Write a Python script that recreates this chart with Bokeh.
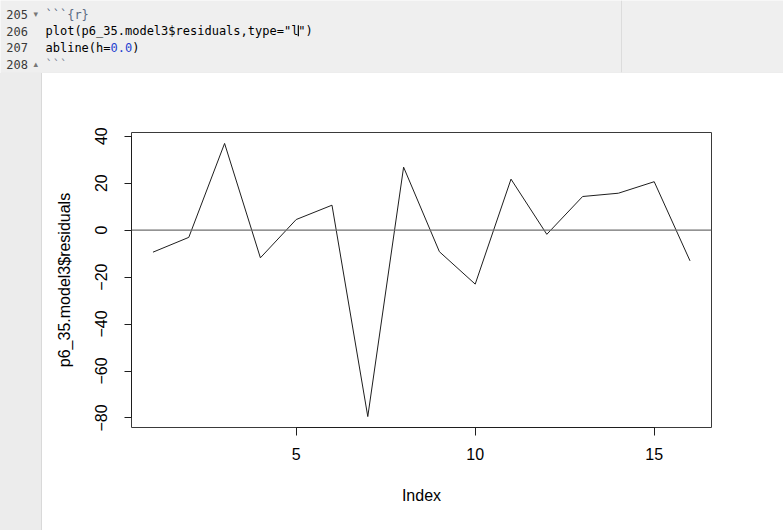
from bokeh.plotting import figure
from bokeh.models import Range1d, FixedTicker, Span, ColumnDataSource, Div
from bokeh.layouts import column, row
from bokeh.embed import file_html
from bokeh.resources import INLINE
from bokeh.core.properties import value

# ---- data ----
index = list(range(1, 17))
residuals = [-9.4, -3.1, 36.9, -11.8, 4.5, 10.6, -79.4, 26.8,
             -9.2, -23.0, 21.7, -1.8, 14.3, 15.7, 20.6, -13.1]
y_ticks = [-80, -60, -40, -20, 0, 20, 40]
x_ticks = [5, 10, 15]
x_label = "Index"
y_label = "p6_35.model3$residuals"

line_numbers = ["205", "206", "207", "208"]
fold_marks = ["\u25be", "", "", "\u25b4"]
# (line, column, text, colour)
code_segments = [
    (0, 0, "```{r}", "#5a6a84"),
    (1, 0, 'plot(p6_35.model3$residuals,type="l")', "#000000"),
    (2, 0, "abline(h=", "#000000"),
    (2, 9, "0.0", "#1f3fd0"),
    (2, 12, ")", "#000000"),
    (3, 0, "```", "#7d8797"),
]
cursor_line, cursor_col = 1, 35

FONT = "Liberation Sans"
MONO = "DejaVu Sans Mono"
W, H = 783, 530

# ---- editor band (top) ----
band_h = 73
top = figure(width=W, height=band_h, x_range=Range1d(0, W), y_range=Range1d(band_h - 1, 0),
             x_axis_location=None, y_axis_location=None, tools="",
             toolbar_location=None, output_backend="svg",
             min_border_left=0, min_border_right=0, min_border_top=0, min_border_bottom=1)
top.grid.visible = False
top.outline_line_color = None
top.background_fill_color = "#efefef"
top.border_fill_color = "#d6d6d6"

char_w = 0.602 * 12
code_x0 = 45
line_h = 16.67
base0 = 14.0

top.add_layout(Span(location=621, dimension="height", line_color="#dcdcdc", line_width=1))

top.text(x=[27.5] * len(line_numbers), y=[base0 + i * line_h for i in range(len(line_numbers))],
         text=line_numbers, text_font=value(MONO), text_font_size="12px",
         text_color="#3a3a3a", text_align="right", text_baseline="alphabetic")
top.text(x=[33] * len(fold_marks), y=[base0 - 1 + i * line_h for i in range(len(fold_marks))],
         text=fold_marks, text_font=value("DejaVu Sans"), text_font_size="9px",
         text_color="#777777", text_align="left", text_baseline="alphabetic")
seg_src = ColumnDataSource(dict(
    x=[code_x0 + c * char_w for (_, c, _, _) in code_segments],
    y=[base0 + l * line_h for (l, _, _, _) in code_segments],
    t=[s for (_, _, s, _) in code_segments],
    col=[k for (_, _, _, k) in code_segments],
))
top.text(x="x", y="y", text="t", text_color="col", source=seg_src,
         text_font=value(MONO), text_font_size="12px",
         text_align="left", text_baseline="alphabetic")
cx = code_x0 + cursor_col * char_w
cy = base0 + cursor_line * line_h
top.segment(x0=[cx], y0=[cy - 6], x1=[cx], y1=[cy + 5], line_color="#000000", line_width=1.2)

# ---- gutter (left) ----
gutter_w = 42
gut = Div(text="", width=gutter_w, height=H - band_h, margin=0,
          styles={"background-color": "#ececec", "box-shadow": "inset -1px 0 0 #d9d9d9"})

# ---- main R plot ----
ymin, ymax = min(residuals), max(residuals)
ypad = 0.04 * (ymax - ymin)
xmin, xmax = min(index), max(index)
xpad = 0.04 * (xmax - xmin)

p = figure(width=W - gutter_w, height=H - band_h,
           x_range=Range1d(xmin - xpad, xmax + xpad),
           y_range=Range1d(ymin - ypad, ymax + ypad),
           tools="", toolbar_location=None, output_backend="svg",
           min_border_left=89, min_border_right=72, min_border_top=59, min_border_bottom=103)
p.grid.visible = False
p.background_fill_color = "white"
p.border_fill_color = "white"
p.outline_line_color = "#3a3a3a"
p.outline_line_width = 1

p.add_layout(Span(location=0, dimension="width", line_color="#6f6f6f", line_width=1.4))
p.line(index, residuals, line_color="#1e1e1e", line_width=1)

xa = p.xaxis[0]
xa.ticker = FixedTicker(ticks=x_ticks)
xa.bounds = (min(x_ticks), max(x_ticks))
xa.axis_label = x_label
ya = p.yaxis[0]
ya.ticker = FixedTicker(ticks=y_ticks)
ya.bounds = (min(y_ticks), max(y_ticks))
ya.axis_label = y_label
ya.major_label_orientation = "vertical"

for ax in (xa, ya):
    ax.axis_line_color = "#1e1e1e"
    ax.axis_line_width = 1
    ax.major_tick_in = 0
    ax.major_tick_line_color = "#1e1e1e"
    ax.minor_tick_line_color = None
    ax.major_label_text_font = FONT
    ax.major_label_text_font_size = "16px"
    ax.major_label_text_color = "#000000"
    ax.axis_label_text_font = FONT
    ax.axis_label_text_font_size = "16px"
    ax.axis_label_text_font_style = "normal"
    ax.axis_label_text_color = "#000000"

xa.major_tick_out = 8
xa.major_label_standoff = 12
xa.axis_label_standoff = 24
ya.major_tick_out = 7
ya.major_label_standoff = 17
ya.axis_label_standoff = 20

layout = column(top, row(gut, p, spacing=0), spacing=0)

open("out.html", "w").write(file_html(layout, INLINE))
